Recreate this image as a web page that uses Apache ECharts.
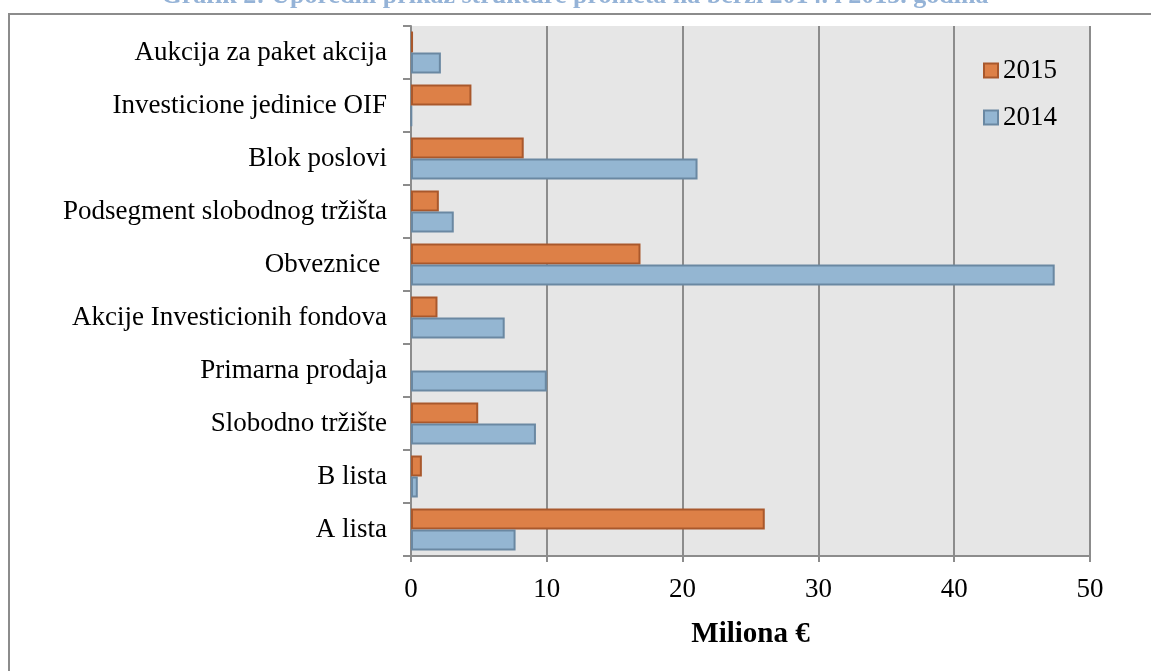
<!DOCTYPE html>
<html>
<head>
<meta charset="utf-8">
<script src="https://cdn.jsdelivr.net/npm/echarts@6/dist/echarts.min.js"></script>
<style>
  html, body { margin: 0; padding: 0; background: #ffffff; }
  #chart { width: 1151px; height: 671px; }
</style>
</head>
<body>
<div id="chart"></div>
<script>
// kategorije odozgo prema dolje
const categories = [
  "Aukcija za paket akcija",
  "Investicione jedinice OIF",
  "Blok poslovi",
  "Podsegment slobodnog tržišta",
  "Obveznice ",
  "Akcije Investicionih fondova",
  "Primarna prodaja",
  "Slobodno tržište",
  "B lista",
  "A lista"
];
// Primarna prodaja 2015: nema prometa (bez stupca)
const values2015 = [0.15, 4.45, 8.3, 2.05, 16.9, 1.95, null, 4.95, 0.8, 26.05];
const values2014 = [2.2, 0.05, 21.1, 3.15, 47.4, 6.9, 10.0, 9.2, 0.5, 7.7];
const xTicks = [0, 10, 20, 30, 40, 50];

const font = "'Liberation Serif', 'DejaVu Serif', serif";
const gray = "#8c8c8c";

const chart = echarts.init(document.getElementById("chart"));

const option = {
  backgroundColor: "#ffffff",
  animation: false,
  graphic: [
    {
      type: "rect",
      shape: { x: 9, y: 14, width: 1200, height: 700 },
      style: { fill: "none", stroke: gray, lineWidth: 2 },
      z: -10
    },
    {
      type: "text",
      x: 575,
      y: -4,
      style: {
        text: "Grafik 2: Uporedni prikaz strukture prometa na berzi 2014. i 2015. godina",
        font: "bold 26px " + font,
        fill: "#95b3d7",
        align: "center",
        verticalAlign: "middle"
      }
    }
  ],
  grid: {
    left: 411,
    right: 61,
    top: 26,
    bottom: 115,
    show: true,
    backgroundColor: "#e6e6e6",
    borderWidth: 0
  },
  legend: {
    orient: "vertical",
    left: 978,
    top: 52,
    itemWidth: 14,
    itemHeight: 14,
    itemGap: 20,
    icon: "rect",
    data: ["2015", "2014"],
    textStyle: { fontFamily: font, fontSize: 27, color: "#000", lineHeight: 27 }
  },
  xAxis: {
    type: "value",
    min: xTicks[0],
    max: xTicks[xTicks.length - 1],
    interval: 10,
    name: "Miliona €",
    nameLocation: "middle",
    nameGap: 64,
    nameTextStyle: { fontFamily: font, fontSize: 29, fontWeight: "bold", color: "#000" },
    axisLine: { show: true, lineStyle: { color: gray, width: 2 } },
    axisTick: { show: true, length: 6, lineStyle: { color: gray, width: 2 } },
    axisLabel: { fontFamily: font, fontSize: 27, color: "#000", margin: 20 },
    splitLine: { show: true, lineStyle: { color: gray, width: 2 } }
  },
  yAxis: {
    type: "category",
    inverse: true,
    data: categories,
    axisLine: { show: true, lineStyle: { color: gray, width: 2 } },
    axisTick: { show: true, length: 8, lineStyle: { color: gray, width: 2 } },
    axisLabel: { fontFamily: font, fontSize: 27, color: "#000", margin: 24, padding: [4, 0, 0, 0] },
    splitLine: { show: false }
  },
  series: [
    {
      name: "2015",
      type: "bar",
      data: values2015,
      barWidth: 21,
      barGap: "0%",
      itemStyle: { color: "#dd8047", borderColor: "#a9582c", borderWidth: 2 }
    },
    {
      name: "2014",
      type: "bar",
      data: values2014,
      barWidth: 21,
      barGap: "0%",
      itemStyle: { color: "#94b6d2", borderColor: "#6a88a2", borderWidth: 2 }
    }
  ]
};

chart.setOption(option);
</script>
</body>
</html>
